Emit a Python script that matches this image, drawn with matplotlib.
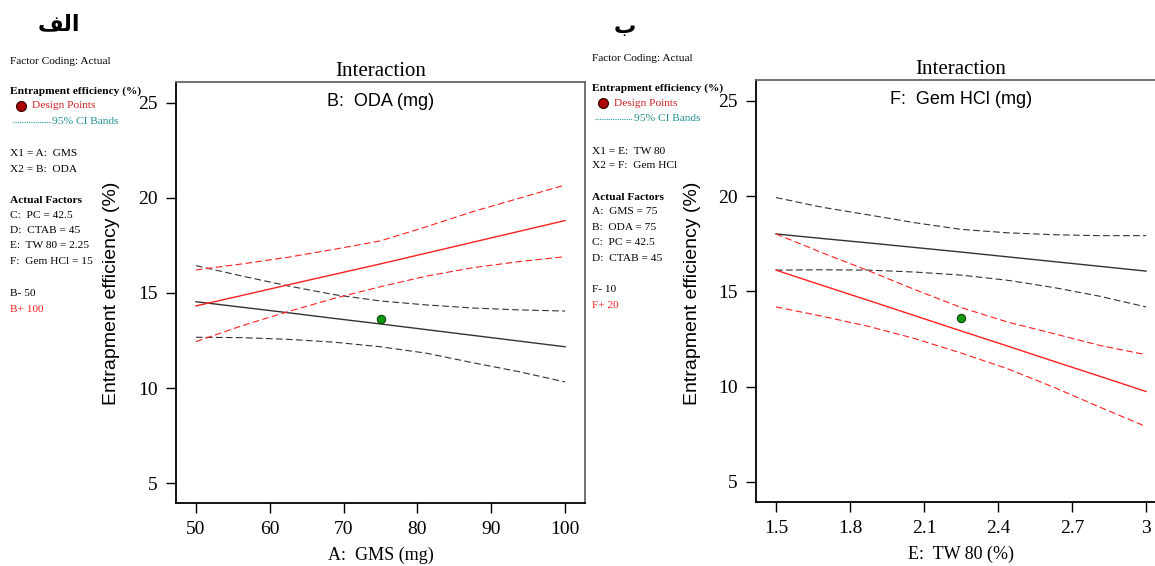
import numpy as np
from matplotlib import pyplot as plt

plt.rcParams['font.family'] = ['Liberation Serif', 'DejaVu Serif']

# ---- panel A (GMS x ODA) ----
xa = [50, 56.25, 62.5, 68.75, 75, 81.25, 87.5, 93.75, 100]
a_lo_mid = [14.54, 14.25, 13.96, 13.66, 13.37, 13.07, 12.77, 12.47, 12.17]   # B- 50
a_lo_up = [16.44, 15.89, 15.37, 14.91, 14.58, 14.37, 14.21, 14.11, 14.05]
a_lo_dn = [12.67, 12.65, 12.56, 12.41, 12.17, 11.83, 11.33, 10.86, 10.32]
a_hi_mid = [14.32, 14.87, 15.43, 15.98, 16.53, 17.10, 17.67, 18.24, 18.81]   # B+ 100
a_hi_up = [16.21, 16.53, 16.88, 17.30, 17.74, 18.49, 19.28, 19.98, 20.68]
a_hi_dn = [12.44, 13.28, 14.02, 14.72, 15.33, 15.89, 16.33, 16.65, 16.91]
a_pt = (75, 13.62)
a_xticks = [50, 60, 70, 80, 90, 100]

# ---- panel B (TW 80 x Gem HCl) ----
xb = [1.5, 1.6875, 1.875, 2.0625, 2.25, 2.4375, 2.625, 2.8125, 3.0]
b_lo_mid = [18.02, 17.78, 17.55, 17.31, 17.07, 16.82, 16.57, 16.32, 16.07]   # F- 10
b_lo_up = [19.93, 19.42, 19.02, 18.61, 18.26, 18.08, 17.98, 17.93, 17.93]
b_lo_dn = [16.12, 16.14, 16.12, 16.02, 15.86, 15.59, 15.21, 14.75, 14.19]
b_hi_mid = [16.12, 15.32, 14.53, 13.73, 12.93, 12.14, 11.34, 10.55, 9.75]    # F+ 20
b_hi_up = [18.02, 17.03, 16.09, 15.10, 14.16, 13.40, 12.79, 12.17, 11.68]
b_hi_dn = [14.19, 13.70, 13.17, 12.53, 11.77, 10.95, 9.98, 8.93, 7.91]
b_pt = (2.25, 13.61)
b_xticks = [1.5, 1.8, 2.1, 2.4, 2.7, 3]
b_xticklabels = ['1.5', '1.8', '2.1', '2.4', '2.7', '3']

yticks = [5, 10, 15, 20, 25]

W, H = 1155, 566
fig = plt.figure(figsize=(W / 100, H / 100), dpi=100)


def px(x0, y0, x1, y1):
    return [x0 / W, 1 - y1 / H, (x1 - x0) / W, (y1 - y0) / H]


def panel(rect, xlim, x, lo, hi, pt, xticks, xlabels, subtitle, xlabel, ylab_x):
    ax = fig.add_axes(px(*rect))
    k = '#333333'
    ax.plot(x, lo[0], color=k, lw=1.0)
    ax.plot(x, lo[1], color=k, lw=0.8, ls=(0, (6, 3)))
    ax.plot(x, lo[2], color=k, lw=0.8, ls=(0, (6, 3)))
    ax.plot(x, hi[0], color='#ff2020', lw=1.0)
    ax.plot(x, hi[1], color='#ff2020', lw=0.8, ls=(0, (6, 3)))
    ax.plot(x, hi[2], color='#ff2020', lw=0.8, ls=(0, (6, 3)))
    ax.plot([pt[0]], [pt[1]], 'o', color='#0a9a0a', mec='#114411', mew=0.8, ms=6)
    ax.set_xlim(*xlim)
    ax.set_ylim(3.95, 26.1)
    ax.set_xticks(xticks)
    ax.set_xticklabels(xlabels)
    ax.set_yticks(yticks)
    ax.tick_params(labelsize=14, length=7, width=1, pad=6)
    for s in ('left', 'bottom'):
        ax.spines[s].set_color('black')
        ax.spines[s].set_linewidth(1.3)
    for s in ('top', 'right'):
        ax.spines[s].set_color('#666666')
        ax.spines[s].set_linewidth(1.3)
    ax.text(0.5, 0.975, subtitle, transform=ax.transAxes, ha='center', va='top',
            fontsize=13, family=['Liberation Sans', 'DejaVu Sans'])
    ax.set_title('Interaction', fontsize=15, pad=4)
    ax.set_xlabel(xlabel, fontsize=13, labelpad=6)
    fig.text(ylab_x / W, 1 - 293 / H, 'Entrapment efficiency (%)', rotation=90,
             ha='center', va='center', fontsize=14,
             family=['Liberation Sans', 'DejaVu Sans'])
    return ax


panel((176, 82, 585, 503), (47.3, 102.7), xa,
      (a_lo_mid, a_lo_up, a_lo_dn), (a_hi_mid, a_hi_up, a_hi_dn), a_pt,
      a_xticks, [str(v) for v in a_xticks], 'B:  ODA (mg)', 'A:  GMS (mg)', 112)
panel((756, 80, 1166, 502), (1.419, 3.081), xb,
      (b_lo_mid, b_lo_up, b_lo_dn), (b_hi_mid, b_hi_up, b_hi_dn), b_pt,
      b_xticks, b_xticklabels, 'F:  Gem HCl (mg)', 'E:  TW 80 (%)', 692)


def side(x0, ytop, x1lbl, x2lbl, factors, lo_lbl, hi_lbl):
    fs = 8.2
    def t(y, s, dx=0, **kw):
        fig.text((x0 + dx) / W, 1 - y / H, s, fontsize=fs, va='center', ha='left', **kw)
    t(ytop, 'Factor Coding: Actual')
    t(ytop + 30, 'Entrapment efficiency (%)', weight='bold')
    fig.add_artist(plt.Line2D([(x0 + 11) / W], [1 - (ytop + 45) / H], marker='o',
                              color='#b00000', mec='#400000', ms=7))
    t(ytop + 45, 'Design Points', dx=21.5, color='#d02020')
    fig.add_artist(plt.Line2D([(x0 + 3) / W, (x0 + 41) / W], [1 - (ytop + 61) / H] * 2,
                              color='#20a0a0', lw=0.8, ls=(0, (1, 1))))
    t(ytop + 61, '95% CI Bands', dx=41.5, color='#209090')
    t(ytop + 93, x1lbl)
    t(ytop + 108, x2lbl)
    t(ytop + 139, 'Actual Factors', weight='bold')
    for i, f in enumerate(factors):
        t(ytop + 154 + 15.5 * i, f)
    t(ytop + 232, lo_lbl)
    t(ytop + 248, hi_lbl, color='#ff2020')


side(10, 61, 'X1 = A:  GMS', 'X2 = B:  ODA',
     ['C:  PC = 42.5', 'D:  CTAB = 45', 'E:  TW 80 = 2.25', 'F:  Gem HCl = 15'],
     'B- 50', 'B+ 100')
side(592, 58, 'X1 = E:  TW 80', 'X2 = F:  Gem HCl',
     ['A:  GMS = 75', 'B:  ODA = 75', 'C:  PC = 42.5', 'D:  CTAB = 45'],
     'F- 10', 'F+ 20')

# panel letters (Arabic, presentation forms in visual order)
fig.text(59 / W, 1 - 24 / H, '\ufed2\ufedf\ufe8d', fontsize=16, weight='bold',
         ha='center', va='center', family=['DejaVu Sans'])
fig.text(625 / W, 1 - 27 / H, '\ufe8f', fontsize=16, weight='bold',
         ha='center', va='center', family=['DejaVu Sans'])

fig.savefig('out.png', dpi=100)
